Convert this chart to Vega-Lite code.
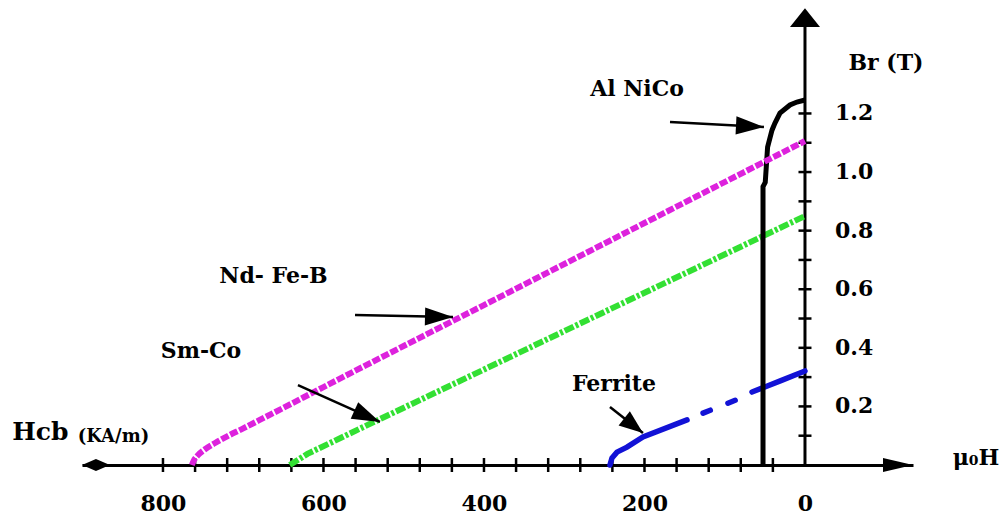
{
  "$schema": "https://vega.github.io/schema/vega-lite/v6.json",
  "width": 831,
  "height": 457,
  "autosize": {"type": "none"},
  "padding": {"left": 82, "top": 8, "right": 91, "bottom": 52},
  "background": "white",
  "config": {"view": {"stroke": null}, "font": "DejaVu Serif"},
  "resolve": {"scale": {"shape": "independent"}},
  "datasets": {
    "curves": [
      {"material": "Nd-Fe-B", "seg": "n", "H": 764, "B": 0},
      {"material": "Nd-Fe-B", "seg": "n", "H": 762, "B": 0.013},
      {"material": "Nd-Fe-B", "seg": "n", "H": 757, "B": 0.032},
      {"material": "Nd-Fe-B", "seg": "n", "H": 748, "B": 0.053},
      {"material": "Nd-Fe-B", "seg": "n", "H": 735, "B": 0.075},
      {"material": "Nd-Fe-B", "seg": "n", "H": 720, "B": 0.098},
      {"material": "Nd-Fe-B", "seg": "n", "H": 700, "B": 0.125},
      {"material": "Nd-Fe-B", "seg": "n", "H": 680, "B": 0.153},
      {"material": "Nd-Fe-B", "seg": "n", "H": 660, "B": 0.181},
      {"material": "Nd-Fe-B", "seg": "n", "H": 600, "B": 0.266},
      {"material": "Nd-Fe-B", "seg": "n", "H": 400, "B": 0.546},
      {"material": "Nd-Fe-B", "seg": "n", "H": 200, "B": 0.826},
      {"material": "Nd-Fe-B", "seg": "n", "H": 0, "B": 1.106},
      {"material": "Sm-Co", "seg": "s", "H": 642, "B": 0},
      {"material": "Sm-Co", "seg": "s", "H": 620, "B": 0.038},
      {"material": "Sm-Co", "seg": "s", "H": 550, "B": 0.13},
      {"material": "Sm-Co", "seg": "s", "H": 400, "B": 0.326},
      {"material": "Sm-Co", "seg": "s", "H": 200, "B": 0.588},
      {"material": "Sm-Co", "seg": "s", "H": 0, "B": 0.85},
      {"material": "Ferrite", "seg": "a", "H": 243, "B": 0},
      {"material": "Ferrite", "seg": "a", "H": 240.5, "B": 0.024},
      {"material": "Ferrite", "seg": "a", "H": 234.3, "B": 0.044},
      {"material": "Ferrite", "seg": "a", "H": 221.8, "B": 0.061},
      {"material": "Ferrite", "seg": "a", "H": 201.9, "B": 0.096},
      {"material": "Ferrite", "seg": "a", "H": 147, "B": 0.154},
      {"material": "Ferrite", "seg": "b", "H": 127, "B": 0.177},
      {"material": "Ferrite", "seg": "b", "H": 118, "B": 0.187},
      {"material": "Ferrite", "seg": "c", "H": 96, "B": 0.211},
      {"material": "Ferrite", "seg": "c", "H": 87, "B": 0.221},
      {"material": "Ferrite", "seg": "d", "H": 66, "B": 0.249},
      {"material": "Ferrite", "seg": "d", "H": 30, "B": 0.288},
      {"material": "Ferrite", "seg": "d", "H": 0, "B": 0.321},
      {"material": "Al NiCo", "seg": "k", "H": 52.3, "B": 0},
      {"material": "Al NiCo", "seg": "k", "H": 52.3, "B": 0.95},
      {"material": "Al NiCo", "seg": "k", "H": 49.5, "B": 0.965},
      {"material": "Al NiCo", "seg": "k", "H": 46.6, "B": 1.085},
      {"material": "Al NiCo", "seg": "k", "H": 41.1, "B": 1.143},
      {"material": "Al NiCo", "seg": "k", "H": 37.4, "B": 1.167},
      {"material": "Al NiCo", "seg": "k", "H": 31.2, "B": 1.201},
      {"material": "Al NiCo", "seg": "k", "H": 18.7, "B": 1.229},
      {"material": "Al NiCo", "seg": "k", "H": 10, "B": 1.239},
      {"material": "Al NiCo", "seg": "k", "H": 0, "B": 1.246}
    ],
    "xticks": [
      {"H": 40, "B": 0}, {"H": 80, "B": 0}, {"H": 120, "B": 0}, {"H": 160, "B": 0},
      {"H": 200, "B": 0}, {"H": 240, "B": 0}, {"H": 280, "B": 0}, {"H": 320, "B": 0},
      {"H": 360, "B": 0}, {"H": 400, "B": 0}, {"H": 440, "B": 0}, {"H": 480, "B": 0},
      {"H": 520, "B": 0}, {"H": 560, "B": 0}, {"H": 600, "B": 0}, {"H": 640, "B": 0},
      {"H": 680, "B": 0}, {"H": 720, "B": 0}, {"H": 760, "B": 0}, {"H": 800, "B": 0}
    ],
    "yticks": [
      {"H": 0, "B": 0.1}, {"H": 0, "B": 0.2}, {"H": 0, "B": 0.3}, {"H": 0, "B": 0.4},
      {"H": 0, "B": 0.5}, {"H": 0, "B": 0.6}, {"H": 0, "B": 0.7}, {"H": 0, "B": 0.8},
      {"H": 0, "B": 0.9}, {"H": 0, "B": 1.0}, {"H": 0, "B": 1.1}, {"H": 0, "B": 1.2}
    ],
    "ylabels": [
      {"H": -37.4, "B": 0.2, "text": "0.2"},
      {"H": -37.4, "B": 0.4, "text": "0.4"},
      {"H": -37.4, "B": 0.6, "text": "0.6"},
      {"H": -37.4, "B": 0.8, "text": "0.8"},
      {"H": -37.4, "B": 1.0, "text": "1.0"},
      {"H": -37.4, "B": 1.2, "text": "1.2"}
    ],
    "yaxis": [{"H": 0, "B": 0, "B2": 1.5}],
    "axisends": [
      {"kind": "yarrow", "H": 0, "B": 1.527},
      {"kind": "xarrow", "H": -115.9, "B": 0},
      {"kind": "diamond", "H": 883.5, "B": 0}
    ],
    "arrows": [
      {"name": "Al NiCo", "H": 168.2, "B": 1.171, "H2": 51.1, "B2": 1.154},
      {"name": "Nd-Fe-B", "H": 560.7, "B": 0.512, "H2": 438.6, "B2": 0.505},
      {"name": "Sm-Co", "H": 631.8, "B": 0.273, "H2": 529.6, "B2": 0.147},
      {"name": "Ferrite", "H": 243, "B": 0.198, "H2": 201.9, "B2": 0.109}
    ],
    "labels": [
      {"text": "Al NiCo", "H": 209.3, "B": 1.283},
      {"text": "Br (T)", "H": -100.9, "B": 1.372},
      {"text": "Nd- Fe-B", "H": 662.3, "B": 0.645},
      {"text": "Sm-Co", "H": 752.6, "B": 0.389},
      {"text": "Ferrite", "H": 238, "B": 0.276},
      {"text": "μ₀H", "H": -213.1, "B": 0.024}
    ],
    "hcb": [{"text": "Hcb", "H": 952.8, "B": 0.113}],
    "unit": [{"text": "(KA/m)", "H": 861.7, "B": 0.094}]
  },
  "encoding": {
    "x": {
      "field": "H", "type": "quantitative",
      "scale": {"domain": [-134.6, 900.9], "reverse": true, "nice": false, "zero": false},
      "axis": {
        "values": [0, 200, 400, 600, 800], "ticks": false, "tickSize": 0, "grid": false,
        "domainColor": "black", "domainWidth": 3, "labelFont": "DejaVu Serif",
        "labelFontWeight": "bold", "labelFontSize": 22, "labelColor": "black",
        "labelPadding": 28, "title": null, "labelFlush": false, "labelOverlap": false
      }
    },
    "y": {
      "field": "B", "type": "quantitative",
      "scale": {"domain": [0, 1.56], "nice": false, "zero": false},
      "axis": null
    }
  },
  "layer": [
    {
      "data": {"name": "yaxis"},
      "mark": {"type": "rule", "color": "black", "strokeWidth": 3},
      "encoding": {"y2": {"field": "B2"}}
    },
    {
      "data": {"name": "xticks"},
      "mark": {"type": "tick", "orient": "vertical", "size": 14, "thickness": 2.5, "color": "black", "opacity": 1}
    },
    {
      "data": {"name": "yticks"},
      "mark": {"type": "tick", "orient": "horizontal", "size": 13, "thickness": 2.5, "color": "black", "opacity": 1}
    },
    {
      "data": {"name": "axisends"},
      "mark": {"type": "point", "filled": true, "color": "black", "opacity": 1, "size": 900, "strokeWidth": 0},
      "encoding": {
        "shape": {
          "field": "kind", "type": "nominal", "legend": null,
          "scale": {
            "domain": ["yarrow", "xarrow", "diamond"],
            "range": ["M-1,0.63L0,-0.63L1,0.63Z", "M-1,-0.47L1,0L-1,0.47Z", "M-0.93,0L0,-0.4L0.93,0L0,0.4Z"]
          }
        }
      }
    },
    {
      "data": {"name": "curves"},
      "transform": [{"filter": "datum.material === 'Sm-Co'"}],
      "mark": {"type": "line", "color": "#33e033", "strokeWidth": 6, "strokeDash": [10, 2, 3, 2]},
      "encoding": {"order": {"field": "B", "type": "quantitative"}}
    },
    {
      "data": {"name": "curves"},
      "transform": [{"filter": "datum.material === 'Ferrite'"}],
      "mark": {"type": "line", "color": "#1212d6", "strokeWidth": 5.5, "strokeCap": "round"},
      "encoding": {"detail": {"field": "seg"}, "order": {"field": "B", "type": "quantitative"}}
    },
    {
      "data": {"name": "curves"},
      "transform": [{"filter": "datum.material === 'Al NiCo'"}],
      "mark": {"type": "line", "color": "black", "strokeWidth": 5},
      "encoding": {"order": {"field": "B", "type": "quantitative"}}
    },
    {
      "data": {"name": "curves"},
      "transform": [{"filter": "datum.material === 'Nd-Fe-B'"}],
      "mark": {"type": "line", "color": "#dd22dd", "strokeWidth": 6, "strokeDash": [8, 2], "interpolate": "monotone"},
      "encoding": {"order": {"field": "B", "type": "quantitative"}}
    },
    {
      "data": {"name": "arrows"},
      "mark": {"type": "rule", "color": "black", "strokeWidth": 2.5},
      "encoding": {"x2": {"field": "H2"}, "y2": {"field": "B2"}}
    },
    {
      "data": {"name": "arrows"},
      "mark": {"type": "point", "filled": true, "color": "black", "opacity": 1, "size": 196, "strokeWidth": 0},
      "encoding": {
        "x": {"field": "H2", "type": "quantitative"},
        "y": {"field": "B2", "type": "quantitative"},
        "shape": {
          "field": "name", "type": "nominal", "legend": null,
          "scale": {
            "domain": ["Al NiCo", "Nd-Fe-B", "Sm-Co", "Ferrite"],
            "range": ["M0,0L-4.06,1.09L-3.93,-1.51Z", "M0,0L-4.03,1.22L-3.97,-1.38Z", "M0,0L-4.18,-0.46L-3.11,-2.83Z", "M0,0L-3.48,-1.08L-1.87,-3.12Z"]
          }
        }
      }
    },
    {
      "data": {"name": "labels"},
      "mark": {"type": "text", "font": "DejaVu Serif", "fontWeight": "bold", "fontSize": 22, "color": "black", "align": "center", "baseline": "middle"},
      "encoding": {"text": {"field": "text"}}
    },
    {
      "data": {"name": "ylabels"},
      "mark": {"type": "text", "font": "DejaVu Serif", "fontWeight": "bold", "fontSize": 22, "color": "black", "align": "left", "baseline": "middle"},
      "encoding": {"text": {"field": "text"}}
    },
    {
      "data": {"name": "hcb"},
      "mark": {"type": "text", "font": "DejaVu Serif", "fontWeight": "bold", "fontSize": 25, "color": "black", "align": "center", "baseline": "middle"},
      "encoding": {"text": {"field": "text"}}
    },
    {
      "data": {"name": "unit"},
      "mark": {"type": "text", "font": "DejaVu Serif", "fontWeight": "bold", "fontSize": 18, "color": "black", "align": "center", "baseline": "middle"},
      "encoding": {"text": {"field": "text"}}
    }
  ]
}
